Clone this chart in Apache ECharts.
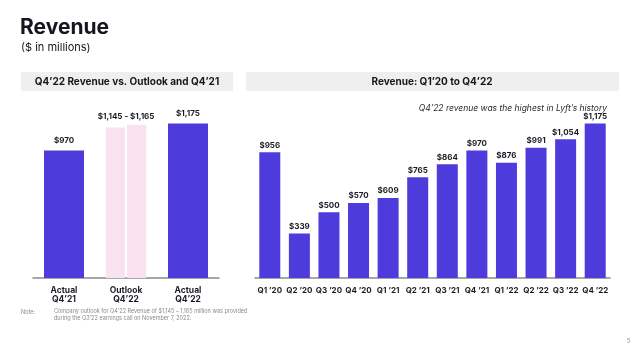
<!DOCTYPE html>
<html>
<head>
<meta charset="utf-8">
<script src="https://cdn.jsdelivr.net/npm/echarts@6/dist/echarts.min.js"></script>
<style>
  html, body { margin: 0; padding: 0; background: #fff; }
  #chart { width: 640px; height: 352px; }
</style>
</head>
<body>
<div id="chart"></div>
<script>
// 左图：Q4'22 实际 vs 指引 vs Q4'21
const compareCategories = ['Actual\nQ4’21', 'Outlook\nQ4’22', 'Actual\nQ4’22']
const actualValues = [970, null, 1175]
const outlookLow = [null, 1145, null]
const outlookHigh = [null, 1165, null]

// 右图：季度收入
const quarters = ['Q1 ’20', 'Q2 ’20', 'Q3 ’20', 'Q4 ’20', 'Q1 ’21', 'Q2 ’21',
  'Q3 ’21', 'Q4 ’21', 'Q1 ’22', 'Q2 ’22', 'Q3 ’22', 'Q4 ’22']
const quarterRevenue = [956, 339, 500, 570, 609, 765, 864, 970, 876, 991, 1054, 1175]

const PURPLE = '#4e3bdb'
const PINK = '#f9e1ef'
const FONT = 'Inter'

const money = v => '$' + v.toLocaleString('en-US')

const chart = echarts.init(document.getElementById('chart'))

const catAxis = (grid, data, show) => ({
  type: 'category',
  gridIndex: grid,
  data: data,
  show: show,
  axisTick: { show: false },
  axisLine: { lineStyle: { color: '#8a8a8a', width: 1.5 } },
  axisLabel: {
    interval: 0,
    color: '#1b1b26', fontFamily: FONT, fontWeight: 'bold',
    fontSize: grid === 0 ? 8.5 : 8, lineHeight: 9, margin: 8
  }
})

const valAxis = grid => ({
  type: 'value', gridIndex: grid, min: 0, max: 1300, show: false
})

const valueLabel = dist => ({
  show: true, position: 'top', distance: dist,
  color: '#1b1b26', fontFamily: FONT, fontWeight: 'bold', fontSize: 8,
  formatter: p => money(p.value)
})

const options = {
  animation: false,
  textStyle: { fontFamily: FONT },
  title: [
    { text: 'Revenue', left: 20, top: 17, padding: 0,
      textStyle: { fontSize: 21, fontWeight: 'bold', color: '#16161f', fontFamily: FONT } },
    { text: '($ in millions)', left: 21, top: 42, padding: 0,
      textStyle: { fontSize: 11, fontWeight: 'normal', color: '#16161f', fontFamily: FONT } }
  ],
  graphic: [
    { type: 'rect', shape: { x: 21, y: 72, width: 212, height: 19 }, style: { fill: '#efefef' } },
    { type: 'text', x: 127, y: 81.5,
      style: { text: 'Q4’22 Revenue vs. Outlook and Q4’21', align: 'center', verticalAlign: 'middle',
        font: 'bold 10px ' + FONT, fill: '#16161f' } },
    { type: 'rect', shape: { x: 246, y: 72, width: 373, height: 19 }, style: { fill: '#efefef' } },
    { type: 'text', x: 432, y: 81.5,
      style: { text: 'Revenue: Q1’20 to Q4’22', align: 'center', verticalAlign: 'middle',
        font: 'bold 10px ' + FONT, fill: '#16161f' } },
    { type: 'text', x: 607, y: 108.5,
      style: { text: 'Q4’22 revenue was the highest in Lyft’s history', align: 'right', verticalAlign: 'middle',
        font: 'italic 8.5px ' + FONT, fill: '#2a2a33' } },
    { type: 'text', x: 21, y: 312,
      style: { text: 'Note:', verticalAlign: 'middle', font: '5.5px ' + FONT, fill: '#8a8a8a' } },
    { type: 'text', x: 54, y: 315,
      style: { text: 'Company outlook for Q4’22 Revenue of $1,145 – 1,165 million was provided\nduring the Q3’22 earnings call on November 7, 2022.',
        verticalAlign: 'middle', lineHeight: 6.5, font: '5.5px ' + FONT, fill: '#8a8a8a' } },
    { type: 'text', x: 627, y: 341,
      style: { text: '5', verticalAlign: 'middle', font: '5.5px ' + FONT, fill: '#8a8a8a' } }
  ],
  grid: [
    { left: 33, right: 421, top: 107, bottom: 74 },
    { left: 255, right: 30, top: 107, bottom: 74 }
  ],
  xAxis: [
    catAxis(0, compareCategories, true),
    catAxis(0, compareCategories, false),
    catAxis(1, quarters, true)
  ],
  yAxis: [valAxis(0), valAxis(0), valAxis(1)],
  series: [
    {
      name: 'Actual', type: 'bar', xAxisIndex: 0, yAxisIndex: 0,
      barWidth: 40, data: actualValues,
      itemStyle: { color: PURPLE },
      label: valueLabel(6)
    },
    {
      name: 'Outlook low', type: 'bar', xAxisIndex: 1, yAxisIndex: 1,
      barWidth: 19, barGap: '12%', data: outlookLow,
      itemStyle: { color: PINK }
    },
    {
      name: 'Outlook high', type: 'bar', xAxisIndex: 1, yAxisIndex: 1,
      barWidth: 19, data: outlookHigh,
      itemStyle: { color: PINK },
      label: {
        show: true, position: 'top', distance: 4, offset: [-10.5, 0],
        color: '#1b1b26', fontFamily: FONT, fontWeight: 'bold', fontSize: 8,
        formatter: () => money(outlookLow[1]) + ' - ' + money(outlookHigh[1])
      }
    },
    {
      name: 'Revenue', type: 'bar', xAxisIndex: 2, yAxisIndex: 2,
      barWidth: 21, data: quarterRevenue,
      itemStyle: { color: PURPLE },
      label: valueLabel(3)
    }
  ]
}

chart.setOption(options)
</script>
</body>
</html>
